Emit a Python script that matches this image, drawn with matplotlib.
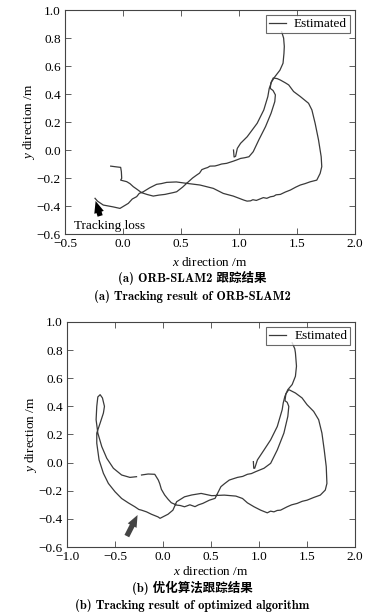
import matplotlib
matplotlib.use("Agg")
import matplotlib.pyplot as plt

plt.rcParams.update({"font.family": "Liberation Serif", "font.size": 9.5,
                     "mathtext.fontset": "custom", "mathtext.it": "Liberation Serif:italic",
                     "mathtext.rm": "Liberation Serif",
                     "xtick.direction": "in", "ytick.direction": "in",
                     "xtick.top": True, "ytick.right": True,
                     "axes.edgecolor": "#444444", "axes.linewidth": 0.8})

LINE = "#3a3a3a"

# ---- (a) ORB-SLAM2: top + narrow loop (left side) ending in a hook
a1_x = [1.368, 1.385, 1.391, 1.388, 1.38, 1.353, 1.31, 1.282, 1.261, 1.249, 1.214, 1.157,
        1.071, 1.014, 0.986, 0.971, 0.958, 0.953]
a1_y = [0.845, 0.80, 0.74, 0.69, 0.62, 0.57, 0.524, 0.488, 0.44, 0.382, 0.286, 0.191,
        0.095, 0.048, 0.012, -0.045, -0.05, 0.0]
# ---- (a) main run: left start -> narrow loop -> outer loop -> tracking loss
a2_x = [-0.106, -0.06, -0.02, -0.014, -0.011, -0.02, 0.032, 0.06, 0.089, 0.12, 0.161, 0.21,
        0.261, 0.31, 0.362, 0.40, 0.429, 0.463, 0.514, 0.549, 0.60, 0.635, 0.66, 0.68, 0.707,
        0.73, 0.75, 0.793, 0.82, 0.85, 0.894, 0.92, 0.95, 0.98, 1.014, 1.05, 1.086, 1.123,
        1.171, 1.229, 1.277, 1.309, 1.314, 1.294, 1.27, 1.275, 1.296, 1.33, 1.357, 1.4, 1.429,
        1.471, 1.50, 1.529, 1.6, 1.629, 1.657, 1.686, 1.709, 1.714, 1.7, 1.671, 1.614, 1.57,
        1.529, 1.49, 1.443, 1.40, 1.357, 1.32, 1.30, 1.271, 1.24, 1.21, 1.186, 1.15, 1.12,
        1.1, 1.07, 1.043, 0.951, 0.865, 0.779, 0.664, 0.549, 0.46, 0.377, 0.33, 0.29, 0.23,
        0.175, 0.14, 0.118, 0.08, 0.046, -0.026, -0.086, -0.17, -0.22, -0.241]
a2_y = [-0.115, -0.12, -0.124, -0.155, -0.202, -0.215, -0.226, -0.24, -0.262, -0.28, -0.305,
        -0.318, -0.329, -0.322, -0.317, -0.31, -0.305, -0.298, -0.265, -0.238, -0.2, -0.179,
        -0.165, -0.14, -0.131, -0.125, -0.115, -0.114, -0.108, -0.100, -0.095, -0.088, -0.08,
        -0.071, -0.06, -0.055, -0.048, -0.012, 0.072, 0.167, 0.263, 0.346, 0.394, 0.425, 0.44,
        0.48, 0.515, 0.51, 0.50, 0.48, 0.465, 0.418, 0.40, 0.382, 0.334, 0.286, 0.19, 0.072,
        -0.048, -0.119, -0.167, -0.215, -0.227, -0.24, -0.25, -0.265, -0.286, -0.30, -0.317,
        -0.32, -0.33, -0.334, -0.345, -0.34, -0.348, -0.36, -0.355, -0.363, -0.365, -0.358,
        -0.329, -0.31, -0.274, -0.25, -0.238, -0.228, -0.231, -0.24, -0.245, -0.27, -0.298,
        -0.31, -0.333, -0.35, -0.381, -0.417, -0.406, -0.393, -0.365, -0.345]

# ---- (b) optimized algorithm: top + narrow loop (left side) ending in a hook
b1_x = [1.345, 1.372, 1.379, 1.39, 1.379, 1.345, 1.3, 1.269, 1.252, 1.241, 1.19, 1.121,
        1.052, 0.983, 0.955, 0.945, 0.941]
b1_y = [0.852, 0.81, 0.781, 0.686, 0.614, 0.555, 0.519, 0.471, 0.424, 0.376, 0.257, 0.162,
        0.09, 0.019, -0.04, -0.04, 0.007]
# ---- (b) main run: after gap -> narrow loop -> outer loop -> recovered loop on the left
b2_x = [-0.224, -0.155, -0.086, -0.049, -0.034, -0.017, 0.017, 0.052, 0.086, 0.142, 0.18,
        0.224, 0.28, 0.333, 0.37, 0.414, 0.483, 0.542, 0.603, 0.64, 0.69, 0.73, 0.776, 0.83,
        0.879, 0.92, 0.966, 1.052, 1.121, 1.19, 1.259, 1.3, 1.31, 1.293, 1.27, 1.28, 1.31,
        1.379, 1.448, 1.5, 1.569, 1.621, 1.655, 1.679, 1.7, 1.707, 1.69, 1.638, 1.569, 1.5,
        1.45, 1.397, 1.34, 1.293, 1.224, 1.19, 1.155, 1.12, 1.086, 1.017, 0.948, 0.879, 0.828,
        0.759, 0.638, 0.507, 0.397, 0.299, 0.224, 0.142, 0.103, 0.052, -0.031, -0.052, -0.121,
        -0.172, -0.224, -0.252, -0.293, -0.362, -0.431, -0.5, -0.569, -0.621, -0.666, -0.69,
        -0.69, -0.655, -0.621, -0.61, -0.631, -0.655, -0.679, -0.69, -0.697, -0.679, -0.638,
        -0.586, -0.517, -0.431, -0.345, -0.276]
b2_y = [-0.088, -0.081, -0.083, -0.124, -0.15, -0.19, -0.23, -0.26, -0.285, -0.302, -0.305,
        -0.314, -0.30, -0.313, -0.30, -0.29, -0.267, -0.254, -0.171, -0.15, -0.124, -0.115,
        -0.105, -0.098, -0.083, -0.078, -0.064, -0.04, -0.005, 0.09, 0.21, 0.329, 0.4, 0.429,
        0.44, 0.49, 0.519, 0.495, 0.46, 0.412, 0.364, 0.305, 0.21, 0.09, -0.029, -0.148,
        -0.195, -0.231, -0.248, -0.267, -0.275, -0.29, -0.30, -0.314, -0.338, -0.34, -0.35,
        -0.345, -0.357, -0.338, -0.314, -0.286, -0.255, -0.238, -0.231, -0.235, -0.219, -0.23,
        -0.243, -0.278, -0.338, -0.367, -0.396, -0.386, -0.367, -0.35, -0.338, -0.333, -0.314,
        -0.286, -0.255, -0.207, -0.148, -0.076, 0.019, 0.138, 0.21, 0.281, 0.352, 0.4, 0.46,
        0.483, 0.467, 0.4, 0.305, 0.21, 0.114, 0.031, -0.04, -0.088, -0.105, -0.1]

a_xticks = [-0.5, 0.0, 0.5, 1.0, 1.5, 2.0]
b_xticks = [-1.0, -0.5, 0.0, 0.5, 1.0, 1.5, 2.0]
yticks = [-0.6, -0.4, -0.2, 0.0, 0.2, 0.4, 0.6, 0.8, 1.0]

fig = plt.figure(figsize=(3.79, 6.16), dpi=100)
axa = fig.add_axes([0.1715, 0.6201, 0.765, 0.3636])
axb = fig.add_axes([0.1768, 0.1120, 0.760, 0.3653])


def style(ax, xticks, xpad):
    ax.set_xlim(xticks[0], xticks[-1])
    ax.set_ylim(-0.6, 1.0)
    ax.set_xticks(xticks)
    ax.set_yticks(yticks)
    ax.set_xticklabels([f"{t:.1f}".replace("-", "\u2212") for t in xticks])
    ax.set_yticklabels([f"{t:.1f}".replace("-", "\u2212") for t in yticks])
    ax.tick_params(length=4, width=0.6, color="#444444", pad=3)
    ax.set_xlabel("$x$ direction /m", labelpad=xpad)
    ax.set_ylabel("$y$ direction /m", labelpad=0)
    leg = ax.legend(loc="upper right", fancybox=False, handlelength=1.3, handletextpad=0.6,
                    borderpad=0.25, fontsize=9.5, borderaxespad=0.35)
    leg.get_frame().set_edgecolor("#444444")
    leg.get_frame().set_linewidth(0.8)


axa.plot(a1_x, a1_y, color=LINE, lw=0.9, label="Estimated")
axa.plot(a2_x, a2_y, color=LINE, lw=0.9)
style(axa, a_xticks, 4)
axa.annotate("", xy=(-0.243, -0.345), xytext=(-0.19, -0.49),
             arrowprops=dict(arrowstyle="simple,head_length=0.9,head_width=0.75,tail_width=0.4",
                             color="black", lw=0))
axa.text(-0.42, -0.54, "Tracking loss", fontsize=9.5, va="center", ha="left")

axb.plot(b1_x, b1_y, color=LINE, lw=0.9, label="Estimated")
axb.plot(b2_x, b2_y, color=LINE, lw=0.9)
style(axb, b_xticks, 1)
axb.annotate("", xy=(-0.252, -0.355), xytext=(-0.39, -0.54),
             arrowprops=dict(arrowstyle="simple,head_length=0.9,head_width=0.75,tail_width=0.4",
                             color="#444444", lw=0))

cap = dict(ha="center", va="center", fontsize=9.0, fontweight="bold",
           family=["cmb10", "Noto Sans CJK SC"])
fig.text(0.508, 0.5487, "(a) ORB-SLAM2 跟踪结果", **cap)
fig.text(0.508, 0.5179, "(a) Tracking result of ORB-SLAM2", **cap)
fig.text(0.508, 0.0460, "(b) 优化算法跟踪结果", **cap)
fig.text(0.508, 0.0165, "(b) Tracking result of optimized algorithm", **cap)

fig.savefig("out.png", dpi=100)
